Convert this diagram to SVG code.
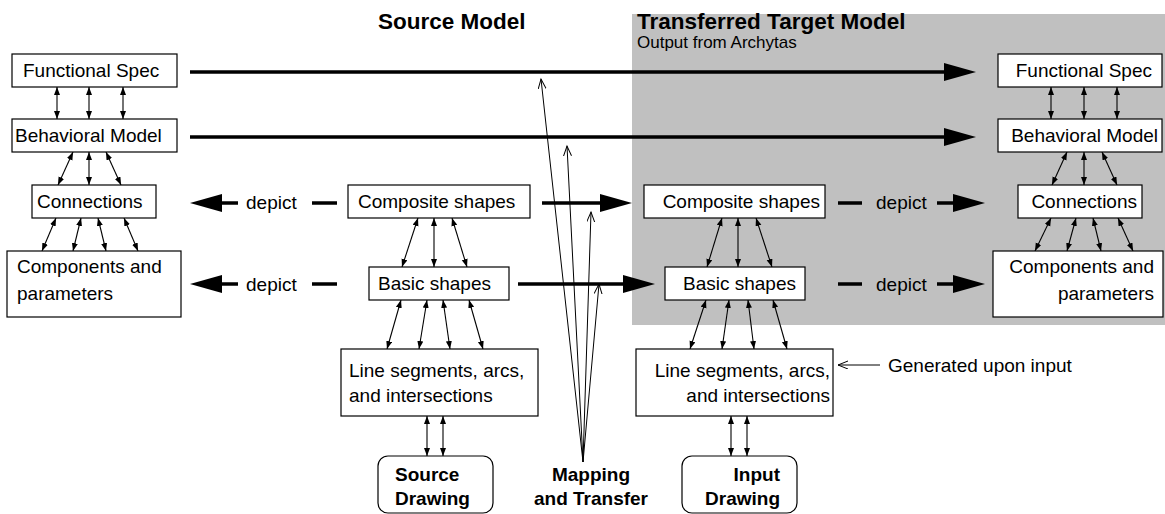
<svg xmlns="http://www.w3.org/2000/svg" width="1165" height="514" viewBox="0 0 1165 514">
<style>
text{font-family:"Liberation Sans",Arial,sans-serif;font-size:19px;fill:#000}
.b{font-weight:bold}
.e{text-anchor:end}
.m{text-anchor:middle}
.box{fill:#fff;stroke:#000;stroke-width:1.2}
.sm{stroke:#000;stroke-width:1.1;fill:none;marker-start:url(#sh);marker-end:url(#sh)}
.thick{stroke:#000;stroke-width:3.5;fill:none;marker-end:url(#big)}
.dash{stroke:#000;stroke-width:3.5}
.thin{stroke:#000;stroke-width:1;fill:none;marker-end:url(#open)}
</style>
<defs>
<marker id="sh" markerUnits="userSpaceOnUse" markerWidth="9" markerHeight="7" refX="8" refY="3" orient="auto-start-reverse"><path d="M0,0 L8,3 L0,6 z" fill="#000"/></marker>
<marker id="big" markerUnits="userSpaceOnUse" markerWidth="33" markerHeight="19" refX="0" refY="9" orient="auto"><path d="M0,0 L32,9 L0,18 z" fill="#000"/></marker>
<marker id="open" markerUnits="userSpaceOnUse" markerWidth="12" markerHeight="10" refX="10" refY="4" orient="auto"><path d="M0,0 L10,4 L0,8" fill="none" stroke="#000" stroke-width="1"/></marker>
</defs>
<rect id="target-region" x="632" y="14" width="533" height="311" fill="#c0c0c0"/>
<g id="titles">
<text class="b" x="378" y="29" style="font-size:22.5px">Source Model</text>
<text class="b" x="637" y="29" style="font-size:22.5px">Transferred Target Model</text>
<text x="637" y="48" style="font-size:17px">Output from Archytas</text>
</g>
<g id="connectors">
<line class="thick" x1="190" y1="72" x2="944" y2="72"/>
<line class="thick" x1="190" y1="137" x2="944" y2="137"/>
<line class="thick" x1="542" y1="203" x2="600" y2="203"/>
<line class="thick" x1="518" y1="284" x2="623" y2="284"/>
<line class="thick" x1="238" y1="203" x2="222" y2="203"/>
<line class="thick" x1="238" y1="284" x2="222" y2="284"/>
<line class="dash" x1="312" y1="203" x2="337" y2="203"/>
<line class="dash" x1="312" y1="284" x2="337" y2="284"/>
<line class="dash" x1="838" y1="203" x2="862" y2="203"/>
<line class="dash" x1="838" y1="284" x2="862" y2="284"/>
<line class="thick" x1="937" y1="203" x2="953" y2="203"/>
<line class="thick" x1="937" y1="284" x2="953" y2="284"/>
<line class="sm" x1="57" y1="87" x2="57" y2="119"/>
<line class="sm" x1="89" y1="87" x2="89" y2="119"/>
<line class="sm" x1="123" y1="87" x2="123" y2="119"/>
<line class="sm" x1="73" y1="152" x2="58" y2="185"/>
<line class="sm" x1="89" y1="152" x2="89" y2="185"/>
<line class="sm" x1="106" y1="152" x2="121" y2="185"/>
<line class="sm" x1="56" y1="218" x2="42" y2="251"/>
<line class="sm" x1="81" y1="218" x2="73" y2="251"/>
<line class="sm" x1="98" y1="218" x2="106" y2="251"/>
<line class="sm" x1="124" y1="218" x2="138" y2="251"/>
<line class="sm" x1="418" y1="218" x2="402" y2="267"/>
<line class="sm" x1="434" y1="218" x2="434" y2="267"/>
<line class="sm" x1="452" y1="218" x2="467" y2="267"/>
<line class="sm" x1="401" y1="300" x2="387" y2="349"/>
<line class="sm" x1="427" y1="300" x2="419" y2="349"/>
<line class="sm" x1="443" y1="300" x2="450" y2="349"/>
<line class="sm" x1="469" y1="300" x2="483" y2="349"/>
<line class="sm" x1="427" y1="416" x2="427" y2="456"/>
<line class="sm" x1="443" y1="416" x2="443" y2="456"/>
<line class="sm" x1="722" y1="218" x2="707" y2="267"/>
<line class="sm" x1="738" y1="218" x2="738" y2="267"/>
<line class="sm" x1="756" y1="218" x2="772" y2="267"/>
<line class="sm" x1="706" y1="300" x2="690" y2="349"/>
<line class="sm" x1="729" y1="300" x2="722" y2="349"/>
<line class="sm" x1="748" y1="300" x2="754" y2="349"/>
<line class="sm" x1="773" y1="300" x2="787" y2="349"/>
<line class="sm" x1="731" y1="416" x2="731" y2="456"/>
<line class="sm" x1="747" y1="416" x2="747" y2="456"/>
<line class="sm" x1="1051" y1="87" x2="1051" y2="119"/>
<line class="sm" x1="1084" y1="87" x2="1084" y2="119"/>
<line class="sm" x1="1117" y1="87" x2="1117" y2="119"/>
<line class="sm" x1="1067" y1="152" x2="1052" y2="185"/>
<line class="sm" x1="1084" y1="152" x2="1084" y2="185"/>
<line class="sm" x1="1102" y1="152" x2="1117" y2="185"/>
<line class="sm" x1="1051" y1="218" x2="1035" y2="251"/>
<line class="sm" x1="1076" y1="218" x2="1067" y2="251"/>
<line class="sm" x1="1093" y1="218" x2="1101" y2="251"/>
<line class="sm" x1="1118" y1="218" x2="1133" y2="251"/>
<line class="thin" x1="583" y1="462" x2="541" y2="79"/>
<line class="thin" x1="583" y1="462" x2="567" y2="146"/>
<line class="thin" x1="583" y1="462" x2="591" y2="212"/>
<line class="thin" x1="583" y1="462" x2="599" y2="284"/>
<line class="thin" x1="880" y1="365" x2="838" y2="365"/>
</g>
<g id="labels">
<text x="246" y="209">depict</text>
<text x="246" y="291">depict</text>
<text x="876" y="209">depict</text>
<text x="876" y="291">depict</text>
<text x="888" y="372">Generated upon input</text>
<text class="b m" x="591" y="481">Mapping</text>
<text class="b m" x="591" y="505">and Transfer</text>
</g>
<g id="src-functional-spec"><rect class="box" x="12" y="54" width="165" height="33"/><text x="23" y="77">Functional Spec</text></g>
<g id="src-behavioral-model"><rect class="box" x="12" y="119" width="165" height="33"/><text x="15" y="142">Behavioral Model</text></g>
<g id="src-connections"><rect class="box" x="32" y="185" width="124" height="33"/><text x="37" y="208">Connections</text></g>
<g id="src-components"><rect class="box" x="7" y="251" width="174" height="66"/><text x="17" y="273">Components and</text><text x="17" y="300">parameters</text></g>
<g id="src-composite"><rect class="box" x="348" y="185" width="182" height="33"/><text x="358" y="208">Composite shapes</text></g>
<g id="src-basic"><rect class="box" x="369" y="267" width="140" height="33"/><text x="378" y="290">Basic shapes</text></g>
<g id="src-lines"><rect class="box" x="341" y="349" width="197" height="67"/><text x="349" y="377">Line segments, arcs,</text><text x="349" y="402">and intersections</text></g>
<g id="src-drawing"><rect class="box" x="378" y="456" width="115" height="57" rx="10"/><text class="b" x="395" y="481">Source</text><text class="b" x="395" y="505">Drawing</text></g>
<g id="tgt-composite"><rect class="box" x="644" y="185" width="181" height="33"/><text class="e" x="820" y="208">Composite shapes</text></g>
<g id="tgt-basic"><rect class="box" x="665" y="267" width="140" height="33"/><text class="e" x="796" y="290">Basic shapes</text></g>
<g id="tgt-lines"><rect class="box" x="636" y="349" width="197" height="67"/><text class="e" x="830" y="377">Line segments, arcs,</text><text class="e" x="830" y="402">and intersections</text></g>
<g id="tgt-drawing"><rect class="box" x="682" y="456" width="115" height="57" rx="10"/><text class="b e" x="780" y="481">Input</text><text class="b e" x="780" y="505">Drawing</text></g>
<g id="tgt-functional-spec"><rect class="box" x="998" y="54" width="164" height="33"/><text class="e" x="1152" y="77">Functional Spec</text></g>
<g id="tgt-behavioral-model"><rect class="box" x="998" y="119" width="164" height="33"/><text class="e" x="1158" y="142">Behavioral Model</text></g>
<g id="tgt-connections"><rect class="box" x="1018" y="185" width="124" height="33"/><text class="e" x="1137" y="208">Connections</text></g>
<g id="tgt-components"><rect class="box" x="993" y="251" width="170" height="66"/><text class="e" x="1154" y="273">Components and</text><text class="e" x="1154" y="300">parameters</text></g>
</svg>
